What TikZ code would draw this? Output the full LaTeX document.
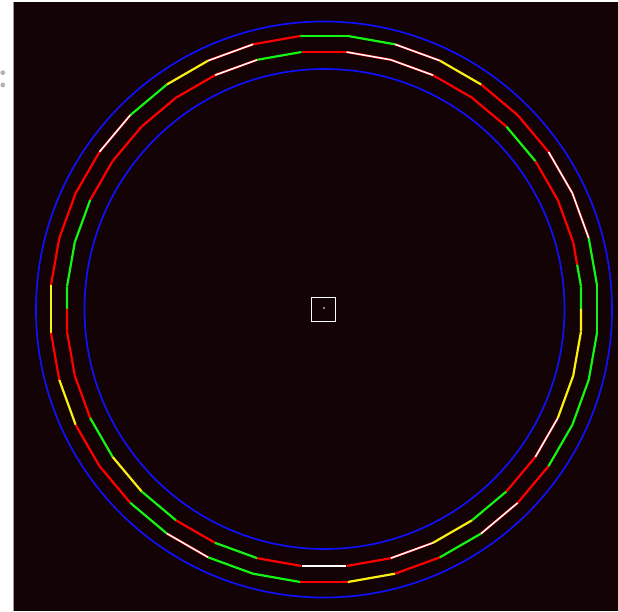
\documentclass[tikz,border=0pt]{standalone}
\definecolor{bgdark}{RGB}{19,3,4}
\definecolor{ringblue}{RGB}{16,16,250}
\definecolor{segR}{RGB}{255,0,0}
\definecolor{segG}{RGB}{20,245,20}
\definecolor{segY}{RGB}{250,240,20}
\begin{document}
\begin{tikzpicture}[x=1pt,y=1pt,
  segred/.style={draw=segR,line width=2.2pt},
  seggreen/.style={draw=segG,line width=2.2pt},
  segyellow/.style={draw=segY,line width=2.2pt},
  segwhite/.style={draw=segR,double=white,double distance=1.5pt,line width=0.4pt},
  bluering/.style={draw=ringblue,line width=1.7pt},
  markbox/.style={draw=white,line width=1.4pt,minimum size=24pt,inner sep=0pt}]
\useasboundingbox (0,0) rectangle (618,611);
\fill[white] (0,0) rectangle (618,611);
\fill[bgdark] (13,0) rectangle (618,609);
\draw[gray!80,line width=1pt] (13.5,0) -- (13.5,609);
\fill[gray!60] (2.8,538.3) circle (2.4);
\fill[gray!60] (2.8,526) circle (2.4);
% blue circles
\draw[bluering] (324,301.5) circle (288);
\draw[bluering] (324.5,302) circle (240);
\begin{scope}[shift={(324,302)}]
\def\Ro{274.04}
\def\Ri{257.98}
% outer polygon
\foreach \k/\s in {0/seggreen,1/seggreen,2/segwhite,3/segwhite,4/segred,5/segred,
  6/segyellow,7/segwhite,8/seggreen,9/seggreen,10/segred,11/segwhite,12/segyellow,
  13/seggreen,14/segwhite,15/segred,16/segred,17/segred,18/segyellow,19/segred,
  20/segyellow,21/segred,22/segred,23/seggreen,24/segwhite,25/seggreen,26/seggreen,
  27/segred,28/segyellow,29/segred,30/seggreen,31/segwhite,32/segred,33/seggreen,
  34/seggreen,35/seggreen}
  {\draw[\s] ({10*\k-5}:\Ro) -- ({10*\k+5}:\Ro);}
% inner polygon
\foreach \k/\s in {2/segred,3/segred,4/seggreen,5/segred,6/segred,7/segwhite,
  8/segwhite,9/segred,10/seggreen,11/segwhite,12/segred,13/segred,14/segred,
  15/segred,16/seggreen,17/seggreen,19/segred,20/segred,21/seggreen,22/segyellow,
  23/seggreen,24/segred,25/seggreen,26/segred,27/segwhite,28/segred,29/segwhite,
  30/segyellow,31/seggreen,32/segred,33/segwhite,34/segyellow,35/segyellow}
  {\draw[\s] ({10*\k-5}:\Ri) -- ({10*\k+5}:\Ri);}
\draw[segyellow] (-5:\Ri) -- (0:257);
\draw[seggreen] (0:257) -- (5:\Ri);
\draw[seggreen] (5:\Ri) -- (10:257);
\draw[segred] (10:257) -- (15:\Ri);
\draw[seggreen] (175:\Ri) -- (180:257);
\draw[segred] (180:257) -- (185:\Ri);
% centre mark
\node[markbox] (box) at (-0.5,-0.5) {};
\fill[white] (0,1) circle (0.8);
\end{scope}
\end{tikzpicture}
\end{document}
